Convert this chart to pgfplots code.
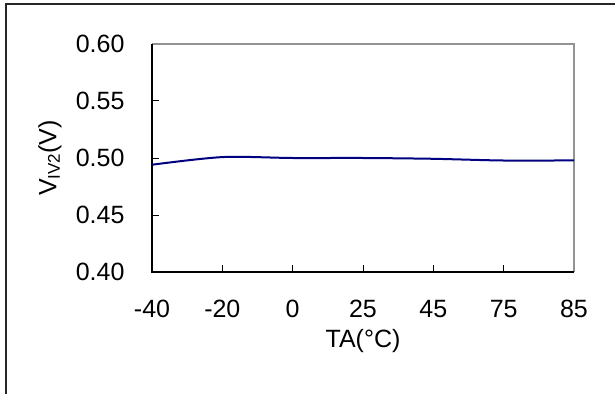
\documentclass[border=0pt]{standalone}
\usepackage{pgfplots}
\pgfplotsset{compat=1.18}
\usepackage{fontspec}
\setmainfont{Liberation Sans}
\definecolor{navyline}{RGB}{0,0,128}
\begin{document}
\fontsize{25}{29}\selectfont
\begin{tikzpicture}[x=1pt,y=1pt]
\useasboundingbox (0,0) rectangle (615,394);
\draw[line width=1.3pt, black!85] (6,0) -- (6,390) -- (615,390);
\begin{axis}[
  at={(152pt,122pt)}, anchor=south west,
  scale only axis, width=422pt, height=228pt,
  xmin=0, xmax=6, ymin=0.4, ymax=0.6,
  xtick={0,1,2,3,4,5,6},
  xticklabels={-40,-20,0,25,45,75,85},
  ytick={0.4,0.45,0.5,0.55,0.6},
  yticklabel style={/pgf/number format/fixed, /pgf/number format/fixed zerofill, /pgf/number format/precision=2, xshift=-19pt},
  /pgf/number format/assume math mode=true,
  axis line style={draw=none},
  xtick pos=bottom, ytick pos=left,
  tick align=inside,
  major tick length=7pt,
  tick style={black, line width=1pt},
  ticklabel style={font=\fontsize{25}{29}\selectfont},
  xticklabel style={yshift=-20pt},
  clip=false,
  xlabel={TA(°C)},
  ylabel={V{\fontsize{17}{17}\selectfont\raisebox{-0.2em}{IV2}}(V)},
  label style={font=\fontsize{25}{29}\selectfont},
  xlabel style={at={(axis description cs:0.5,-0.3026)}, anchor=center},
  ylabel style={at={(axis description cs:-0.2417,0.5)}, anchor=center},
]
\draw[gray!85, line width=2pt] (rel axis cs:0,1) -- (rel axis cs:1,1) -- (rel axis cs:1,0);
\draw[black, line width=1.3pt] (rel axis cs:0,1) -- (rel axis cs:0,0) -- (rel axis cs:1,0);
\addplot[navyline, line width=2pt, smooth, tension=0.5] coordinates {
(0,0.4941) (1,0.5008) (2,0.5000) (3,0.5000) (4,0.4993) (5,0.4978) (6,0.4979)
};
\end{axis}
\end{tikzpicture}
\end{document}
